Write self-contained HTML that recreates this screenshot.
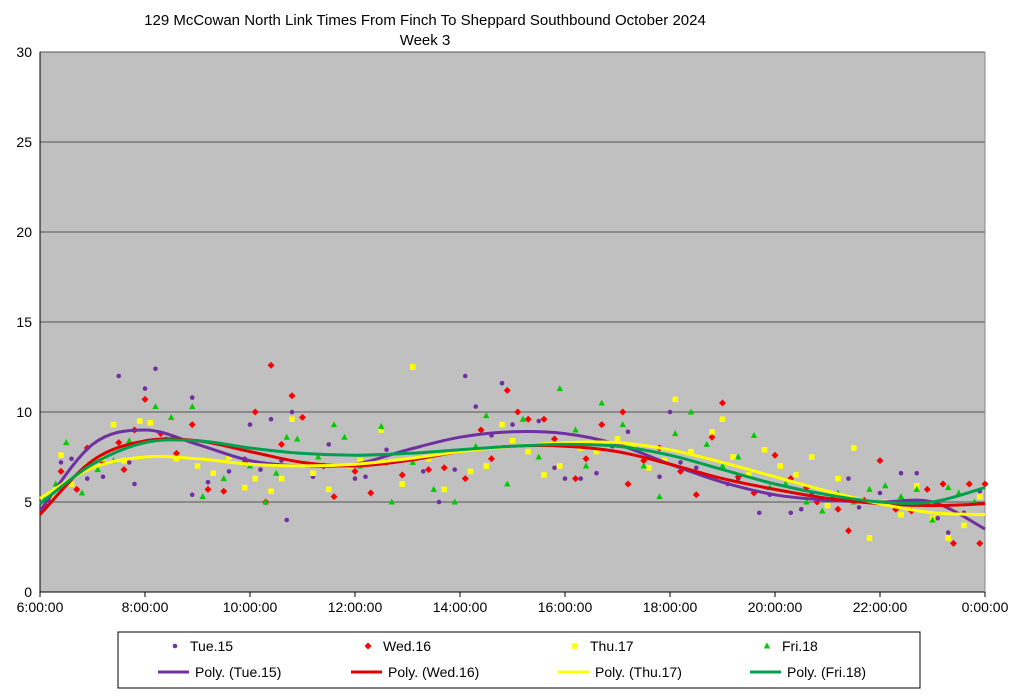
<!DOCTYPE html>
<html><head><meta charset="utf-8"><style>
body{margin:0;background:#fff;width:1024px;height:694px;overflow:hidden;font-family:"Liberation Sans",sans-serif}
svg text{font-family:"Liberation Sans",sans-serif}
</style></head><body>
<svg id="c" width="1024" height="694">
<text x="425" y="25" font-size="15" text-anchor="middle">129 McCowan North Link Times From Finch To Sheppard Southbound October 2024</text>
<text x="425" y="45" font-size="15" text-anchor="middle">Week 3</text>
</svg>
<script>
const yTicks=[0,5,10,15,20,25,30];
const xTicks=[6,8,10,12,14,16,18,20,22,24];
const xTickLabels=["6:00:00","8:00:00","10:00:00","12:00:00","14:00:00","16:00:00","18:00:00","20:00:00","22:00:00","0:00:00"];
const seriesNames=["Tue.15","Wed.16","Thu.17","Fri.18"];
const tueX=[6.2,6.4,6.6,6.9,7.2,7.5,7.7,7.8,8.0,8.2,8.4,8.9,8.9,9.2,9.6,9.9,10.0,10.2,10.4,10.6,10.7,10.8,11.2,11.5,12.0,12.2,12.6,12.9,13.3,13.6,13.9,14.1,14.3,14.4,14.6,14.8,15.0,15.1,15.5,15.8,16.0,16.3,16.6,16.9,17.2,17.5,17.8,18.0,18.2,18.5,19.1,19.3,19.7,19.9,20.3,20.5,20.7,21.1,21.4,21.6,22.0,22.4,22.7,23.1,23.3,23.6,23.9];
const tueY=[5.0,7.2,7.4,6.3,6.4,12.0,7.2,6.0,11.3,12.4,8.5,10.8,5.4,6.1,6.7,7.4,9.3,6.8,9.6,7.3,4.0,10.0,6.4,8.2,6.3,6.4,7.9,6.5,6.7,5.0,6.8,12.0,10.3,9.0,8.7,11.6,9.3,10.0,9.5,6.9,6.3,6.3,6.6,8.1,8.9,7.3,6.4,10.0,7.2,6.9,6.0,6.3,4.4,5.4,4.4,4.6,5.4,5.2,6.3,4.7,5.5,6.6,6.6,4.1,3.3,4.4,5.6];
const wedX=[6.1,6.4,6.7,6.9,7.2,7.5,7.6,7.8,8.0,8.3,8.6,8.9,9.2,9.5,9.9,10.1,10.3,10.4,10.6,10.8,11.0,11.4,11.6,12.0,12.3,12.6,12.9,13.4,13.7,14.1,14.4,14.6,14.9,15.1,15.3,15.6,15.8,16.2,16.4,16.7,17.1,17.2,17.5,17.8,18.2,18.5,18.8,19.0,19.3,19.6,20.0,20.3,20.6,20.8,21.2,21.4,21.7,22.0,22.3,22.6,22.9,23.2,23.4,23.7,23.9,24.0];
const wedY=[4.8,6.7,5.7,8.0,7.2,8.3,6.8,9.0,10.7,8.8,7.7,9.3,5.7,5.6,7.2,10.0,5.0,12.6,8.2,10.9,9.7,7.0,5.3,6.7,5.5,7.2,6.5,6.8,6.9,6.3,9.0,7.4,11.2,10.0,9.6,9.6,8.5,6.3,7.4,9.3,10.0,6.0,7.3,8.0,6.7,5.4,8.6,10.5,6.4,5.5,7.6,6.3,5.8,5.0,4.6,3.4,5.1,7.3,4.6,4.5,5.7,6.0,2.7,6.0,2.7,6.0];
const thuX=[6.2,6.4,6.6,6.9,7.2,7.4,7.6,7.9,8.1,8.6,9.0,9.3,9.6,9.9,10.1,10.4,10.6,10.8,11.2,11.5,11.9,12.1,12.5,12.9,13.1,13.4,13.7,14.2,14.5,14.8,15.0,15.3,15.6,15.9,16.3,16.6,17.0,17.3,17.6,17.9,18.1,18.4,18.8,19.0,19.2,19.5,19.8,20.1,20.4,20.7,21.0,21.2,21.5,21.8,22.1,22.4,22.7,23.0,23.3,23.6,23.9];
const thuY=[5.4,7.6,6.0,7.0,7.4,9.3,7.3,9.5,9.4,7.4,7.0,6.6,7.5,5.8,6.3,5.6,6.3,9.6,6.6,5.7,7.0,7.3,9.0,6.0,12.5,7.4,5.7,6.7,7.0,9.3,8.4,7.8,6.5,7.0,8.0,7.8,8.5,8.0,6.9,7.3,10.7,7.8,8.9,9.6,7.5,6.5,7.9,7.0,6.5,7.5,4.8,6.3,8.0,3.0,5.0,4.3,5.9,4.1,3.0,3.7,5.3];
const friX=[6.1,6.3,6.5,6.8,7.1,7.4,7.7,8.2,8.5,8.9,9.1,9.5,10.0,10.3,10.5,10.7,10.9,11.3,11.6,11.8,12.1,12.5,12.7,13.1,13.5,13.9,14.3,14.5,14.9,15.2,15.5,15.9,16.2,16.4,16.7,17.1,17.5,17.8,18.1,18.4,18.7,19.0,19.3,19.6,19.9,20.2,20.6,20.9,21.2,21.5,21.8,22.1,22.4,22.7,23.0,23.3,23.5,23.8];
const friY=[5.2,6.0,8.3,5.5,6.8,7.3,8.4,10.3,9.7,10.3,5.3,6.3,7.0,5.0,6.6,8.6,8.5,7.5,9.3,8.6,7.0,9.2,5.0,7.2,5.7,5.0,8.1,9.8,6.0,9.6,7.5,11.3,9.0,7.0,10.5,9.3,7.0,5.3,8.8,10.0,8.2,7.0,7.5,8.7,5.8,6.0,5.0,4.5,5.5,5.0,5.7,5.9,5.3,5.7,4.0,5.8,5.5,5.0];
const trendX=[6,7,8,9,10,11,12,13,14,15,16,17,18,19,20,21,22,23,24];
const tueTrend=[4.5,8.2,9.0,8.2,7.3,7.0,7.1,7.9,8.6,8.9,8.8,8.2,7.1,6.1,5.4,5.1,5.0,5.0,3.5];
const wedTrend=[4.3,7.3,8.4,8.4,7.8,7.2,7.0,7.3,7.8,8.1,8.1,7.8,7.1,6.3,5.7,5.2,4.9,4.8,4.9];
const thuTrend=[5.2,6.9,7.5,7.4,7.1,7.0,7.1,7.4,7.8,8.1,8.3,8.3,7.9,7.2,6.4,5.6,4.9,4.4,4.3];
const friTrend=[4.9,7.1,8.3,8.4,8.0,7.7,7.6,7.7,7.9,8.1,8.2,8.1,7.6,6.8,6.0,5.4,5.0,5.0,5.8];

const L=40,R=985,T=52,B=592;
const xs=h=>L+(h-6)/18*(R-L);
const ys=v=>B-v/30*(B-T);
const NS='http://www.w3.org/2000/svg';
const svg=document.getElementById('c');
function mk(tag,at,parent){const e=document.createElementNS(NS,tag);for(const k in at)e.setAttribute(k,at[k]);(parent||svg).appendChild(e);return e;}
const bg=mk('rect',{x:L,y:T,width:R-L,height:B-T,fill:'#c0c0c0'});


yTicks.forEach(v=>{
  const g=mk('line',{x1:L,x2:R,y1:ys(v),y2:ys(v),stroke:v===0?'#000':'#555','stroke-width':1});
  
  
  const t=mk('text',{x:L-8,y:ys(v)+5,'font-size':14,'text-anchor':'end'});t.textContent=v;
  
  
});
mk('line',{x1:L,x2:L,y1:T,y2:B,stroke:'#000'});
mk('line',{x1:R,x2:R,y1:T,y2:B,stroke:'#888'});
xTicks.forEach((h,i)=>{
  mk('line',{x1:xs(h),x2:xs(h),y1:B,y2:B+5,stroke:'#000'});
  const t=mk('text',{x:xs(h),y:B+20,'font-size':14,'text-anchor':'middle'});t.textContent=xTickLabels[i];
  
  
});
const colors=['#7030a0','#ff0000','#ffff00','#00cc00'];
const lineColors=['#7030a0','#e00000','#ffff00','#00a050'];
function marker(k,x,y,p){
  let e;
  if(k===0)e=mk('circle',{cx:x,cy:y,r:2.3,fill:colors[0]},p);
  else if(k===1)e=mk('polygon',{points:`${x},${y-3.5} ${x+3.5},${y} ${x},${y+3.5} ${x-3.5},${y}`,fill:colors[1]},p);
  else if(k===2)e=mk('rect',{x:x-2.8,y:y-2.8,width:5.6,height:5.6,fill:colors[2]},p);
  else e=mk('polygon',{points:`${x},${y-3.5} ${x+3.2},${y+2.5} ${x-3.2},${y+2.5}`,fill:colors[3]},p);
  return e;
}
const SX=[tueX,wedX,thuX,friX],SY=[tueY,wedY,thuY,friY],TR=[tueTrend,wedTrend,thuTrend,friTrend];
SX.forEach((arr,k)=>{
  const g=mk('g',{});
  
  
  arr.forEach((h,i)=>{const m=marker(k,xs(h),ys(SY[k][i]),g);
    
    });
});
function smooth(px,py){
  let d=`M${px[0]},${py[0]}`;
  for(let i=0;i<px.length-1;i++){
    const x0=px[i-1]??px[i],y0=py[i-1]??py[i],x3=px[i+2]??px[i+1],y3=py[i+2]??py[i+1];
    const c1x=px[i]+(px[i+1]-x0)/6,c1y=py[i]+(py[i+1]-y0)/6;
    const c2x=px[i+1]-(x3-px[i])/6,c2y=py[i+1]-(y3-py[i])/6;
    d+=` C${c1x},${c1y} ${c2x},${c2y} ${px[i+1]},${py[i+1]}`;
  }
  return d;
}
TR.forEach((tr,k)=>{
  const p=mk('path',{d:smooth(trendX.map(xs),tr.map(ys)),fill:'none',stroke:lineColors[k],'stroke-width':3});
  
  
});
// legend
const lg=mk('g',{});


mk('rect',{x:118,y:632,width:802,height:56,fill:'#fff',stroke:'#000'},lg);
const lx=[175,368,575,767];
seriesNames.forEach((n,k)=>{
  const m=marker(k,lx[k],646,lg);
  
  
  const t=mk('text',{x:lx[k]+15,y:651,'font-size':14},lg);t.textContent=n;
  
  
  const l=mk('line',{x1:lx[k]-17,x2:lx[k]+14,y1:672,y2:672,stroke:lineColors[k],'stroke-width':3},lg);
  
  
  const t2=mk('text',{x:lx[k]+20,y:677,'font-size':14},lg);t2.textContent='Poly. ('+n+')';
  
  
});
</script>
</body></html>
